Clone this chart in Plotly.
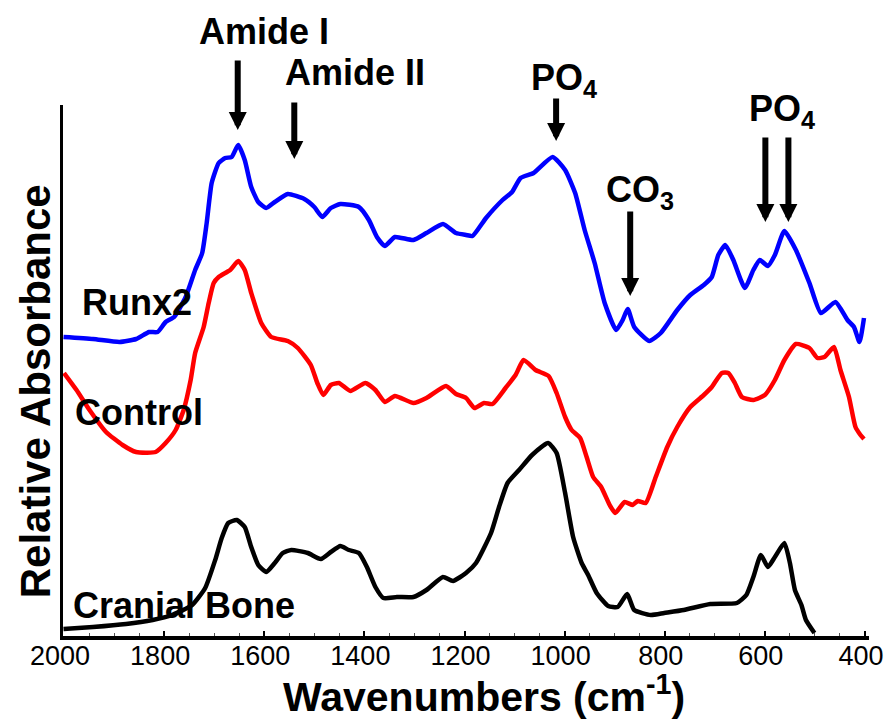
import plotly.graph_objects as go

# ---- data (wavenumber in cm-1, relative absorbance in a.u.) ----
runx2_wn = [2001, 1942, 1889, 1856, 1830, 1813, 1797, 1780, 1757, 1738, 1724, 1715, 1705, 1691, 1678, 1665,
            1652, 1639, 1626, 1612, 1596, 1579, 1553, 1520, 1500, 1484, 1467, 1448, 1411, 1391, 1375, 1359,
            1339, 1302, 1276, 1243, 1217, 1197, 1184, 1157, 1124, 1105, 1088, 1062, 1024, 999, 979, 960,
            940, 920, 897, 884, 874, 861, 831, 808, 775, 749, 722, 706, 693, 679, 663, 640, 623, 610, 594,
            580, 561, 538, 511, 488, 459, 435, 422, 411, 402]
runx2_abs = [2.99, 2.97, 2.94, 2.97, 3.04, 3.04, 3.14, 3.19, 3.39, 3.66, 3.83, 4.13, 4.53, 4.73, 4.78, 4.79,
             4.91, 4.76, 4.49, 4.34, 4.28, 4.34, 4.42, 4.37, 4.29, 4.19, 4.28, 4.32, 4.29, 4.16, 3.99, 3.90,
             3.99, 3.96, 4.03, 4.12, 4.03, 4.01, 4.00, 4.18, 4.36, 4.44, 4.58, 4.63, 4.79, 4.66, 4.43, 4.06,
             3.73, 3.33, 3.06, 3.16, 3.27, 3.09, 2.95, 3.03, 3.26, 3.41, 3.51, 3.59, 3.81, 3.91, 3.76, 3.48,
             3.66, 3.76, 3.70, 3.81, 4.05, 3.86, 3.53, 3.23, 3.34, 3.16, 3.09, 2.94, 3.18]

control_wn = [2000, 1975, 1949, 1916, 1883, 1856, 1817, 1797, 1777, 1761, 1747, 1738, 1721, 1711, 1701, 1691,
              1668, 1652, 1639, 1626, 1606, 1586, 1553, 1533, 1507, 1494, 1482, 1467, 1451, 1428, 1398, 1378,
              1359, 1339, 1302, 1276, 1237, 1217, 1197, 1180, 1161, 1144, 1118, 1098, 1082, 1058, 1032, 1016,
              999, 986, 969, 956, 943, 927, 910, 899, 880, 864, 854, 838, 818, 795, 775, 749, 722, 706, 686,
              673, 660, 646, 623, 600, 580, 561, 538, 511, 495, 481, 462, 449, 432, 419, 409, 402]
control_abs = [2.63, 2.46, 2.26, 2.04, 1.91, 1.84, 1.84, 1.93, 2.06, 2.26, 2.56, 2.83, 3.09, 3.33, 3.53, 3.59,
               3.66, 3.75, 3.66, 3.43, 3.13, 2.99, 2.95, 2.88, 2.71, 2.53, 2.41, 2.51, 2.53, 2.45, 2.53, 2.46,
               2.34, 2.40, 2.33, 2.38, 2.50, 2.42, 2.38, 2.28, 2.33, 2.32, 2.48, 2.61, 2.76, 2.66, 2.60, 2.43,
               2.19, 2.06, 1.98, 1.79, 1.59, 1.49, 1.31, 1.23, 1.34, 1.31, 1.35, 1.33, 1.59, 1.89, 2.09, 2.29,
               2.41, 2.49, 2.63, 2.63, 2.53, 2.39, 2.36, 2.41, 2.56, 2.76, 2.92, 2.88, 2.78, 2.79, 2.89, 2.66,
               2.39, 2.09, 2.01, 1.97]

bone_wn = [2001, 1942, 1876, 1823, 1784, 1744, 1718, 1698, 1685, 1672, 1655, 1639, 1626, 1612, 1596, 1579,
           1563, 1546, 1513, 1487, 1467, 1448, 1431, 1411, 1395, 1378, 1362, 1335, 1302, 1276, 1243, 1223,
           1197, 1177, 1147, 1131, 1114, 1091, 1065, 1033, 1016, 999, 983, 966, 953, 936, 913, 894, 875,
           861, 828, 801, 762, 709, 656, 637, 623, 608, 594, 580, 561, 550, 540, 527, 518, 501]
bone_abs = [0.07, 0.09, 0.12, 0.16, 0.21, 0.31, 0.48, 0.76, 0.98, 1.13, 1.16, 1.09, 0.89, 0.71, 0.64, 0.73,
            0.83, 0.86, 0.83, 0.77, 0.84, 0.90, 0.86, 0.83, 0.69, 0.49, 0.38, 0.39, 0.39, 0.46, 0.59, 0.55,
            0.63, 0.73, 1.03, 1.29, 1.53, 1.66, 1.81, 1.93, 1.83, 1.43, 0.99, 0.73, 0.61, 0.43, 0.30, 0.29,
            0.42, 0.26, 0.21, 0.23, 0.26, 0.32, 0.33, 0.41, 0.59, 0.81, 0.69, 0.79, 0.93, 0.73, 0.46, 0.31,
            0.16, 0.03]

tick_vals = [2000, 1800, 1600, 1400, 1200, 1000, 800, 600, 400]
tick_text = ["2000", "1800", "1600", "1400", "1200", "1000", "800", "600", "400"]

# band markers: label, arrow wavenumber, arrow tip absorbance
band_labels = ["Amide I", "Amide II", "PO<sub>4</sub>", "CO<sub>3</sub>", "PO<sub>4</sub>"]
arrow_wn = [1653, 1540, 1017, 869, 599, 553]
arrow_tip = [5.06, 4.77, 4.95, 3.40, 4.14, 4.14]

BOLD = "Liberation Sans, Arial, Helvetica, sans-serif"

W, H = 895, 725
L, R, T, B = 63, 877, 105, 636


def pxx(x):
    return (x - L) / (R - L)


def pxy(y):
    return (B - y) / (B - T)


fig = go.Figure()
for wn, ab, col, name in [(runx2_wn, runx2_abs, "#0000FF", "Runx2"),
                          (control_wn, control_abs, "#FF0000", "Control"),
                          (bone_wn, bone_abs, "#000000", "Cranial Bone")]:
    fig.add_trace(go.Scatter(x=wn, y=ab, mode="lines", name=name,
                             line=dict(color=col, width=4.5, shape="spline", smoothing=0.5)))

ann = []
# curve labels
for text, x, y in [("Runx2", 80, 302), ("Control", 73, 412), ("Cranial Bone", 71, 605)]:
    ann.append(dict(text=text, xref="paper", yref="paper", x=pxx(x), y=pxy(y), xanchor="left",
                    yanchor="middle", showarrow=False,
                    font=dict(family=BOLD, size=36, color="black", weight="bold")))
# band labels
for text, x, y in zip(band_labels, [266, 358, 569, 646, 789], [31, 72, 80, 192, 111]):
    ann.append(dict(text=text, xref="paper", yref="paper", x=pxx(x), y=pxy(y), xanchor="center",
                    yanchor="middle", showarrow=False,
                    font=dict(family=BOLD, size=36, color="black", weight="bold")))
# arrows
for wn, tip, length in zip(arrow_wn, arrow_tip, [71, 58, 44, 86, 86, 86]):
    ann.append(dict(text="", x=wn, y=tip, xref="x", yref="y", ax=0, ay=-length,
                    showarrow=True, arrowhead=2, arrowsize=0.6, arrowwidth=6,
                    arrowcolor="black", standoff=0))
# axis titles
ann.append(dict(text="Relative Absorbance", xref="paper", yref="paper", x=pxx(35), y=pxy(391),
                textangle=-90, showarrow=False, xanchor="center", yanchor="middle",
                font=dict(family=BOLD, size=42, color="black", weight="bold")))
ann.append(dict(text="Wavenumbers (cm<sup>-1</sup>)", xref="paper", yref="paper", x=pxx(488), y=pxy(694),
                showarrow=False, xanchor="center", yanchor="middle",
                font=dict(family=BOLD, size=41, color="black", weight="bold")))

fig.update_layout(
    width=W, height=H,
    margin=dict(l=L, r=W - R, t=T, b=H - B, pad=0),
    paper_bgcolor="white", plot_bgcolor="white",
    showlegend=False,
    annotations=ann,
    xaxis=dict(range=[2002, 392], tickvals=tick_vals, ticktext=tick_text,
               showgrid=False, zeroline=False, showline=True, linecolor="black", linewidth=4,
               ticks="inside", ticklen=5, tickwidth=2, tickcolor="black",
               minor=dict(dtick=50, ticks="inside", ticklen=3, tickwidth=1, tickcolor="#555"),
               ticklabeloverflow="allow", ticklabelshift=4, ticklabelstandoff=-7,
               tickfont=dict(family=BOLD, size=27, color="black")),
    yaxis=dict(range=[0, 5.31], showgrid=False, zeroline=False, showline=True,
               linecolor="black", linewidth=3, showticklabels=False, ticks=""),
)

fig.write_html("out.html", config={"displayModeBar": False},
               post_script="document.body.style.margin='0px';")
